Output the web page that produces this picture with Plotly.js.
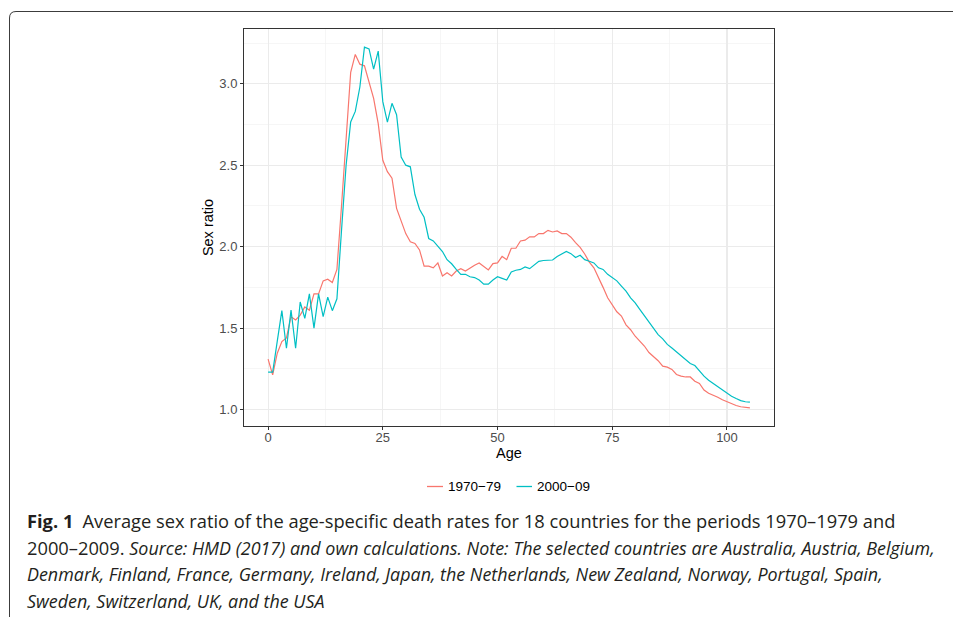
<!DOCTYPE html>
<html>
<head>
<meta charset="utf-8">
<script src="https://cdn.plot.ly/plotly-3.0.1.min.js"></script>
<style>
html, body { margin: 0; padding: 0; background: #ffffff; }
#chart { width: 953px; height: 617px; }
</style>
</head>
<body>
<div id="chart"></div>
<script>
// ---- data ----
const ages = [0,1,2,3,4,5,6,7,8,9,10,11,12,13,14,15,16,17,18,19,20,21,22,23,24,25,26,27,28,29,
  30,31,32,33,34,35,36,37,38,39,40,41,42,43,44,45,46,47,48,49,50,51,52,53,54,55,56,57,58,59,
  60,61,62,63,64,65,66,67,68,69,70,71,72,73,74,75,76,77,78,79,80,81,82,83,84,85,86,87,88,89,
  90,91,92,93,94,95,96,97,98,99,100,101,102,103,104,105];

const ratio1970s = [1.31,1.213,1.346,1.417,1.44,1.57,1.55,1.58,1.63,1.61,
  1.71,1.71,1.79,1.80,1.78,1.86,2.25,2.66,3.07,3.18,
  3.12,3.11,3.01,2.91,2.755,2.53,2.46,2.42,2.235,2.16,
  2.08,2.03,2.02,1.98,1.88,1.88,1.87,1.90,1.82,1.84,
  1.82,1.85,1.865,1.85,1.87,1.886,1.90,1.88,1.857,1.896,
  1.90,1.94,1.92,1.99,1.99,2.035,2.04,2.06,2.06,2.08,
  2.08,2.10,2.09,2.096,2.08,2.08,2.058,2.025,1.995,1.955,
  1.905,1.87,1.815,1.75,1.686,1.645,1.60,1.574,1.52,1.49,
  1.45,1.42,1.39,1.35,1.324,1.30,1.266,1.26,1.246,1.215,
  1.205,1.20,1.20,1.174,1.16,1.12,1.10,1.09,1.076,1.06,
  1.047,1.035,1.025,1.017,1.013,1.01];

const ratio2000s = [1.23,1.23,1.42,1.607,1.376,1.61,1.376,1.66,1.56,1.71,
  1.50,1.71,1.57,1.69,1.607,1.68,2.10,2.50,2.765,2.83,
  2.98,3.225,3.214,3.09,3.20,2.89,2.765,2.88,2.81,2.55,
  2.50,2.49,2.32,2.23,2.18,2.05,2.035,2.00,1.97,1.92,
  1.895,1.86,1.83,1.83,1.815,1.81,1.795,1.77,1.77,1.795,
  1.815,1.805,1.795,1.845,1.855,1.86,1.875,1.865,1.89,1.91,
  1.915,1.918,1.918,1.94,1.955,1.97,1.957,1.933,1.947,1.92,
  1.91,1.90,1.87,1.86,1.83,1.81,1.79,1.758,1.727,1.686,
  1.655,1.615,1.578,1.537,1.50,1.46,1.434,1.40,1.378,1.353,
  1.332,1.307,1.283,1.27,1.236,1.205,1.18,1.16,1.137,1.117,
  1.098,1.082,1.068,1.055,1.048,1.045];

const seriesNames = ["1970\u221279", "2000\u221209"];
const xTicks = [0, 25, 50, 75, 100];
const yTicks = [1.0, 1.5, 2.0, 2.5, 3.0];
const xTitle = "Age";
const yTitle = "Sex ratio";
const I0 = '<span style="font-size:17.9px"><i>', I1 = '</i></span>';
const captionLines = [
  "<b>Fig. 1</b>\u2002Average sex ratio of the age-specific death rates for 18 countries for the periods 1970\u20131979 and",
  "2000\u20132009. " + I0 + "Source: HMD (2017) and own calculations. Note: The selected countries are Australia, Austria, Belgium," + I1,
  I0 + "Denmark, Finland, France, Germany, Ireland, Japan, the Netherlands, New Zealand, Norway, Portugal, Spain," + I1,
  I0 + "Sweden, Switzerland, UK, and the USA" + I1
];

// ---- layout geometry ----
const W = 953, H = 617;
const L = 244, R = 774, T = 29, B = 426;
const px = x => (x - L) / (R - L);
const py = y => (B - y) / (B - T);

const colors = ["#F8766D", "#00BFC4"];
const fontMain = "Liberation Sans, Arial, Helvetica, sans-serif";
const capFont = "Open Sans, sans-serif";

const traces = [
  { x: ages, y: ratio1970s, name: seriesNames[0], type: "scatter", mode: "lines",
    line: { color: colors[0], width: 1.2 }, showlegend: false, hoverinfo: "x+y" },
  { x: ages, y: ratio2000s, name: seriesNames[1], type: "scatter", mode: "lines",
    line: { color: colors[1], width: 1.2 }, showlegend: false, hoverinfo: "x+y" }
];

const shapes = [
  // outer figure frame with rounded top-left corner
  { type: "path", xref: "paper", yref: "paper",
    path: `M ${px(953)} ${py(11.5)} L ${px(16)} ${py(11.5)} Q ${px(9.5)} ${py(11.5)} ${px(9.5)} ${py(18)} L ${px(9.5)} ${py(617)}`,
    line: { color: "#3c3c3c", width: 1 } },
  // legend keys
  { type: "line", xref: "paper", yref: "paper", x0: px(427), x1: px(443), y0: py(486.5), y1: py(486.5),
    line: { color: colors[0], width: 1.3 } },
  { type: "line", xref: "paper", yref: "paper", x0: px(516.5), x1: px(532), y0: py(486.5), y1: py(486.5),
    line: { color: colors[1], width: 1.3 } }
];

const annotations = [
  { xref: "paper", yref: "paper", x: px(446), y: py(486.5), xanchor: "left", yanchor: "middle",
    text: seriesNames[0], showarrow: false, font: { family: fontMain, size: 13.5, color: "#000000" } },
  { xref: "paper", yref: "paper", x: px(535), y: py(486.5), xanchor: "left", yanchor: "middle",
    text: seriesNames[1], showarrow: false, font: { family: fontMain, size: 13.5, color: "#000000" } }
];
const capY = [520, 547, 574, 601];
captionLines.forEach((t, i) => {
  annotations.push({ xref: "paper", yref: "paper", x: px(25), y: py(capY[i]), xanchor: "left", yanchor: "middle",
    text: t, showarrow: false, align: "left",
    font: { family: capFont, size: 18.3, color: "#231f20" } });
});

const layout = {
  width: W, height: H,
  margin: { l: L, r: W - R, t: T, b: H - B, pad: 0 },
  paper_bgcolor: "#ffffff", plot_bgcolor: "#ffffff",
  showlegend: false,
  font: { family: fontMain },
  xaxis: {
    range: [-5.25, 110.25], tickvals: xTicks, ticktext: xTicks.map(String),
    showgrid: true, gridcolor: "#EBEBEB", gridwidth: 1.1,
    minor: { dtick: 12.5, tick0: 0, showgrid: true, gridcolor: "#F2F2F2", gridwidth: 0.7, ticks: "" },
    zeroline: false, showline: true, mirror: true, linecolor: "#333333", linewidth: 1,
    ticks: "outside", ticklen: 3, tickcolor: "#333333", tickwidth: 1,
    ticklabelstandoff: -4,
    tickfont: { family: fontMain, size: 13, color: "#4D4D4D" },
    title: { text: xTitle, font: { family: fontMain, size: 14.5, color: "#000000" }, standoff: 3 },
    fixedrange: true
  },
  yaxis: {
    range: [0.899, 3.336], tickvals: yTicks, ticktext: yTicks.map(v => v.toFixed(1)),
    showgrid: true, gridcolor: "#EBEBEB", gridwidth: 1.1,
    minor: { dtick: 0.25, tick0: 1.0, showgrid: true, gridcolor: "#F2F2F2", gridwidth: 0.7, ticks: "" },
    zeroline: false, showline: true, mirror: true, linecolor: "#333333", linewidth: 1,
    ticks: "outside", ticklen: 3, tickcolor: "#333333", tickwidth: 1,
    tickfont: { family: fontMain, size: 13, color: "#4D4D4D" },
    title: { text: yTitle, font: { family: fontMain, size: 14.5, color: "#000000" }, standoff: 2 },
    fixedrange: true
  },
  shapes: shapes,
  annotations: annotations
};

Plotly.newPlot("chart", traces, layout, { displayModeBar: false, staticPlot: true });
</script>
</body>
</html>
